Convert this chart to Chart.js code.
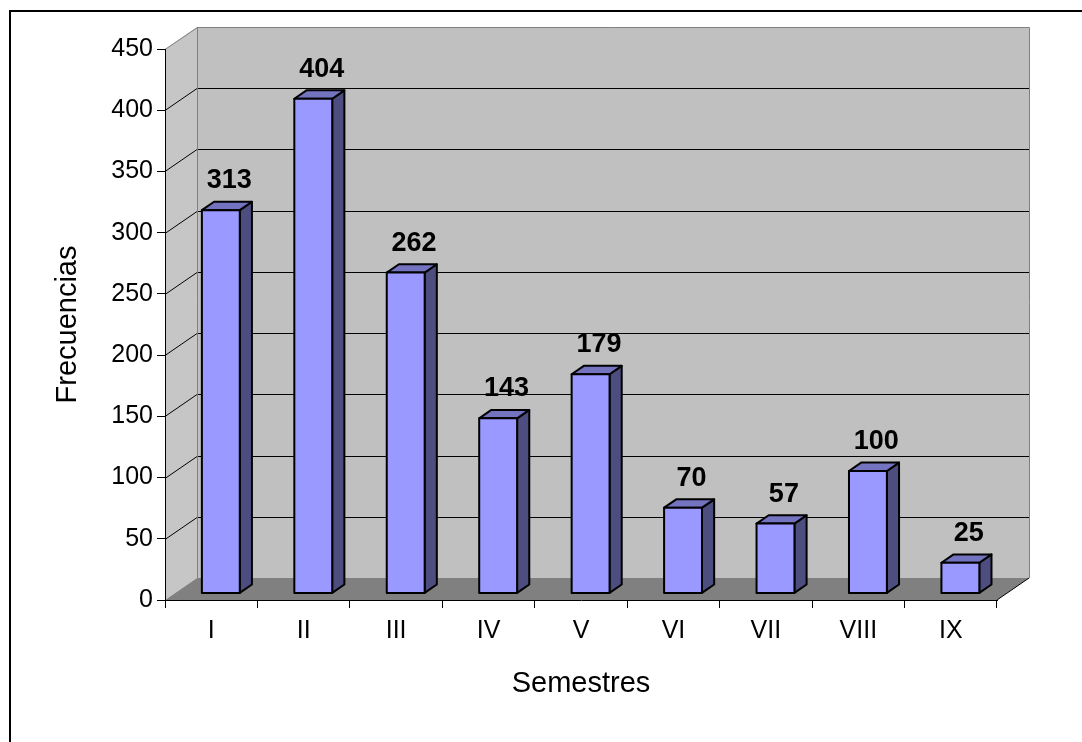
<!DOCTYPE html>
<html>
<head>
<meta charset="utf-8">
<script src="https://cdn.jsdelivr.net/npm/chart.js@4.4.0/dist/chart.umd.min.js"></script>
<style>
  html, body { margin: 0; padding: 0; background: #fff; }
  #wrap { width: 1082px; height: 742px; }
</style>
</head>
<body>
<div id="wrap"><canvas id="chart" width="1082" height="742"></canvas></div>
<script>
// Datos del gráfico
const semestres = ['I', 'II', 'III', 'IV', 'V', 'VI', 'VII', 'VIII', 'IX'];
const frecuencias = [313, 404, 262, 143, 179, 70, 57, 100, 25];
const yMin = 0;
const yMax = 450;
const yStep = 50;

const FONT = "'Liberation Sans', Arial, sans-serif";

// 3D look (Excel style): depth of the plot box and of each bar
const DEPTH_X = 32;
const DEPTH_Y = -22;
const BAR_FRONT = 0.3;   // bar front face, fraction of depth
const BAR_BACK = 0.68;   // bar back face

const COLORS = {
  wall: '#c0c0c0',
  sideWall: '#c6c6c6',
  floor: '#808080',
  wallEdge: '#808080',
  grid: '#000000',
  barFront: '#9999ff',
  barTop: '#7373c0',
  barSide: '#4d4d80',
};

function poly(ctx, pts, fill, stroke, lw) {
  ctx.beginPath();
  ctx.moveTo(pts[0][0], pts[0][1]);
  for (let i = 1; i < pts.length; i++) ctx.lineTo(pts[i][0], pts[i][1]);
  ctx.closePath();
  if (fill) { ctx.fillStyle = fill; ctx.fill(); }
  if (stroke) { ctx.strokeStyle = stroke; ctx.lineWidth = lw || 1; ctx.stroke(); }
}

// walls, floor and back gridlines, drawn before the axes
const walls3d = {
  id: 'walls3d',
  beforeDraw(chart) {
    const { ctx, chartArea } = chart;
    const { left, right, top, bottom } = chartArea;
    const dx = DEPTH_X, dy = DEPTH_Y;
    const yScale = chart.scales.y;
    ctx.save();

    // outer frame
    ctx.strokeStyle = '#000';
    ctx.lineWidth = 2;
    ctx.strokeRect(10, 11, 1200, 1000);

    // left side wall
    poly(ctx, [[left, top], [left + dx, top + dy], [left + dx, bottom + dy], [left, bottom]], COLORS.sideWall);
    // back wall
    poly(ctx, [[left + dx, top + dy], [right + dx, top + dy], [right + dx, bottom + dy], [left + dx, bottom + dy]], COLORS.wall);
    // floor
    poly(ctx, [[left, bottom], [left + dx, bottom + dy], [right + dx, bottom + dy], [right, bottom]], COLORS.floor);

    // gridlines on side wall + back wall
    ctx.strokeStyle = COLORS.grid;
    ctx.lineWidth = 1;
    for (let v = yMin + yStep; v < yMax; v += yStep) {
      const y = Math.round(yScale.getPixelForValue(v)) + 0.5;
      ctx.beginPath();
      ctx.moveTo(left, y);
      ctx.lineTo(left + dx, y + dy);
      ctx.lineTo(right + dx, y + dy);
      ctx.stroke();
    }

    // wall edges
    ctx.strokeStyle = COLORS.wallEdge;
    ctx.beginPath();
    ctx.moveTo(left, top + 0.5);
    ctx.lineTo(left + dx + 0.5, top + dy + 0.5);
    ctx.lineTo(right + dx + 0.5, top + dy + 0.5);
    ctx.lineTo(right + dx + 0.5, bottom + dy);
    ctx.moveTo(left + dx + 0.5, top + dy);
    ctx.lineTo(left + dx + 0.5, bottom + dy);
    ctx.stroke();

    // floor right edge
    ctx.strokeStyle = '#000';
    ctx.beginPath();
    ctx.moveTo(right, bottom);
    ctx.lineTo(right + dx, bottom + dy);
    ctx.stroke();

    ctx.restore();
  },
};

// 3D boxes + value labels, from the bar elements laid out by Chart.js
const bars3d = {
  id: 'bars3d',
  afterDatasetsDraw(chart) {
    const { ctx } = chart;
    const meta = chart.getDatasetMeta(0);
    const dx = DEPTH_X, dy = DEPTH_Y;
    ctx.save();
    ctx.lineJoin = 'round';
    meta.data.forEach((bar, i) => {
      const { x, y, base, width } = bar.getProps(['x', 'y', 'base', 'width'], true);
      const x0 = x - width / 2 + BAR_FRONT * dx;
      const x1 = x + width / 2 + BAR_FRONT * dx;
      const yt = y + BAR_FRONT * dy;
      const yb = base + BAR_FRONT * dy;
      const ddx = (BAR_BACK - BAR_FRONT) * dx;
      const ddy = (BAR_BACK - BAR_FRONT) * dy;

      poly(ctx, [[x1, yt], [x1 + ddx, yt + ddy], [x1 + ddx, yb + ddy], [x1, yb]], COLORS.barSide, '#000', 2);
      poly(ctx, [[x0, yt], [x0 + ddx, yt + ddy], [x1 + ddx, yt + ddy], [x1, yt]], COLORS.barTop, '#000', 2);
      poly(ctx, [[x0, yt], [x1, yt], [x1, yb], [x0, yb]], COLORS.barFront, '#000', 2);

      // value label
      ctx.fillStyle = '#000';
      ctx.font = 'bold 27px ' + FONT;
      ctx.textAlign = 'center';
      ctx.textBaseline = 'middle';
      ctx.fillText(String(frecuencias[i]), x + 18, y + BAR_BACK * dy - 21);
    });
    ctx.restore();
  },
};

new Chart(document.getElementById('chart'), {
  type: 'bar',
  data: {
    labels: semestres,
    datasets: [{
      label: 'Frecuencias',
      data: frecuencias,
      backgroundColor: 'rgba(0,0,0,0)',
      borderWidth: 0,
      categoryPercentage: 1,
      barPercentage: 0.41,
    }],
  },
  plugins: [walls3d, bars3d],
  options: {
    responsive: false,
    animation: false,
    events: [],
    layout: { padding: { left: 10, right: 85, top: 49, bottom: 42 } },
    plugins: {
      legend: { display: false },
      tooltip: { enabled: false },
    },
    scales: {
      x: {
        grid: { drawOnChartArea: false, drawTicks: true, tickLength: 8, color: '#000', offset: true },
        border: { display: true, color: '#000', width: 1 },
        ticks: { color: '#000', font: { family: FONT, size: 25 }, padding: 8, maxRotation: 0, autoSkip: false },
        title: {
          display: true,
          text: 'Semestres',
          color: '#000',
          font: { family: FONT, size: 29, lineHeight: 1 },
          padding: { top: 0, bottom: 2 },
        },
        afterFit(scale) { scale.height = 100; },
      },
      y: {
        min: yMin,
        max: yMax,
        grid: { drawOnChartArea: false, drawTicks: true, tickLength: 8, color: '#000' },
        border: { display: true, color: '#000', width: 1 },
        ticks: { stepSize: yStep, color: '#000', font: { family: FONT, size: 25 }, padding: 4 },
        title: {
          display: true,
          text: 'Frecuencias',
          color: '#000',
          font: { family: FONT, size: 29, lineHeight: 1 },
          padding: { top: 43, bottom: 0 },
        },
        afterFit(scale) { scale.width = 155; },
      },
    },
  },
});
</script>
</body>
</html>
